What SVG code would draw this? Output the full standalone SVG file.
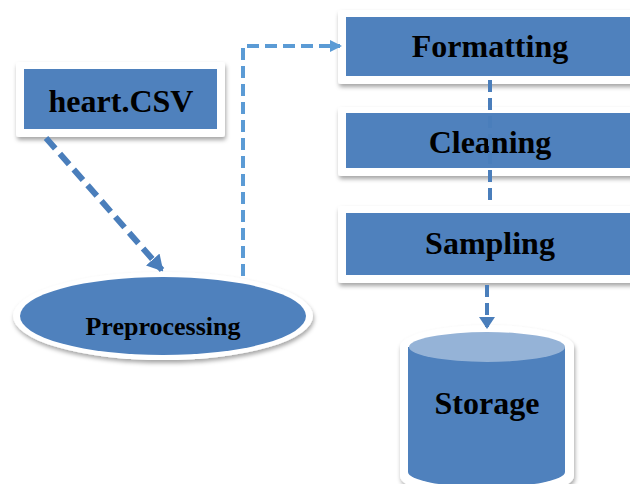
<svg xmlns="http://www.w3.org/2000/svg" width="630" height="484" viewBox="0 0 630 484">
<style>
.frame{fill:#ffffff;filter:url(#sh)}
.blue{fill:#4f81bd}
.lbl{font-family:"Liberation Serif","Times New Roman",serif;font-weight:bold;fill:#000;text-anchor:middle}
.dash1{fill:none;stroke:#4a7ebb;stroke-width:6;stroke-dasharray:14,7}
.dash2{fill:none;stroke:#5b9bd5;stroke-width:4;stroke-dasharray:12,6}
.dash3{fill:none;stroke:#4a7ebb;stroke-width:4;stroke-dasharray:12,6}
</style>
<defs>
<filter id="sh" x="-10%" y="-10%" width="130%" height="140%">
<feDropShadow dx="1" dy="3" stdDeviation="2" flood-color="#000" flood-opacity="0.35"/>
</filter>
<marker id="ah1" markerWidth="16" markerHeight="18" refX="14" refY="9" orient="auto" markerUnits="userSpaceOnUse"><path d="M0,0 L16,9 L0,18 Z" fill="#4a7ebb"/></marker>
<marker id="ah2" markerWidth="12" markerHeight="12" refX="10" refY="6" orient="auto" markerUnits="userSpaceOnUse"><path d="M0,0 L12,6 L0,12 Z" fill="#5b9bd5"/></marker>
<marker id="ah3" markerWidth="12" markerHeight="16" refX="10" refY="8" orient="auto" markerUnits="userSpaceOnUse"><path d="M0,0 L12,8 L0,16 Z" fill="#4a7ebb"/></marker>
</defs>
<rect width="630" height="484" fill="#ffffff"/>
<g id="heart">
<rect class="frame" x="16" y="62" width="209" height="75" rx="3"/>
<rect class="blue" x="24" y="69" width="193" height="60"/>
<text class="lbl" x="121" y="112" font-size="32">heart.CSV</text>
</g>
<g id="preprocessing">
<ellipse class="frame" cx="163" cy="316" rx="150" ry="44"/>
<ellipse class="blue" cx="163" cy="316" rx="143" ry="39"/>
<text class="lbl" x="163" y="335" font-size="26">Preprocessing</text>
</g>
<g id="formatting">
<rect class="frame" x="338" y="10" width="300" height="74" rx="3"/>
<rect class="blue" x="346" y="17" width="290" height="59"/>
<text class="lbl" x="490" y="57" font-size="32">Formatting</text>
</g>
<g id="cleaning">
<rect class="frame" x="338" y="107" width="300" height="69" rx="3"/>
<rect class="blue" x="346" y="113" width="290" height="55"/>
<text class="lbl" x="490" y="153" font-size="32">Cleaning</text>
</g>
<g id="sampling">
<rect class="frame" x="338" y="206" width="300" height="77" rx="3"/>
<rect class="blue" x="346" y="213" width="290" height="62"/>
<text class="lbl" x="490" y="254" font-size="32">Sampling</text>
</g>
<g id="storage">
<path class="frame" d="M400,347 A87,22 0 0 1 574,347 L574,476 A87,22 0 0 1 400,476 Z"/>
<path class="blue" d="M408,347 L565,347 L565,472 A78,15 0 0 1 408,472 Z"/>
<ellipse cx="487" cy="347" rx="78" ry="15" fill="#95b3d7"/>
<text class="lbl" x="487" y="414" font-size="32">Storage</text>
</g>
<g id="connectors">
<path class="dash1" d="M46,138 L162,270" marker-end="url(#ah1)"/>
<path class="dash2" d="M243,276 L243,46 L340,46" marker-end="url(#ah2)"/>
<path class="dash3" d="M490,80 L490,205"/>
<path class="dash3" d="M487,285 L487,327" marker-end="url(#ah3)"/>
</g>
</svg>
